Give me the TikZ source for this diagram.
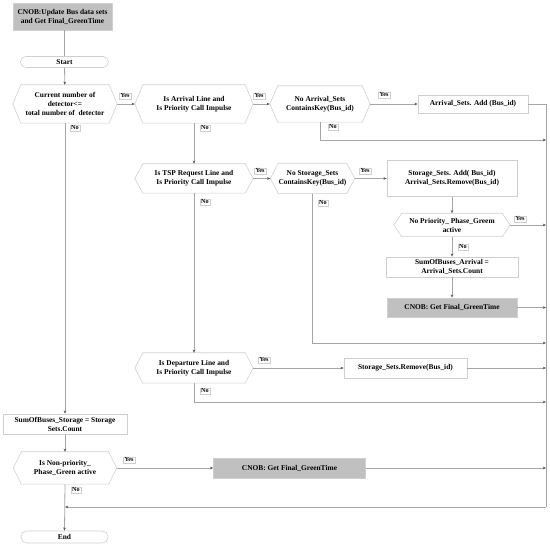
\documentclass[tikz,border=0pt]{standalone}
\usepackage{fontspec}
\setmainfont{Liberation Serif}
\usetikzlibrary{arrows.meta}
\definecolor{linegray}{HTML}{A6A6A6}
\definecolor{boxgray}{HTML}{CFCFCF}
\definecolor{fillgray}{HTML}{C0C0C0}
\definecolor{tipgray}{HTML}{555555}
\begin{document}
\begin{tikzpicture}[x=1pt,y=-1pt,
  every node/.style={font=\fontsize{7.4}{9}\selectfont\bfseries, align=center, inner sep=0pt},
  proc/.style={draw=boxgray, line width=0.6pt, fill=white},
  grayproc/.style={draw=boxgray, line width=0.6pt, fill=fillgray},
  term/.style={draw=boxgray, line width=0.6pt, rounded corners=5.5pt, fill=white},
  hexd/.style={},
  hexline/.style={draw=boxgray, line width=0.6pt},
  lbl/.style={draw=boxgray, line width=0.4pt, fill=white, font=\fontsize{6.2}{6.2}\selectfont\bfseries, inner xsep=1.5pt, inner ysep=1pt},
  conn/.style={draw=linegray, line width=0.8pt},
  arr/.style={conn, -{Stealth[length=3.2pt,width=2.6pt,color=tipgray]}}
]
\useasboundingbox (0,0) rectangle (550,545);

% nodes
\node[grayproc, minimum width=99pt, minimum height=27pt] (top) at (62.5,16.5) {CNOB:Update Bus data sets\\and Get Final\_GreenTime};
\node[term, minimum width=88pt, minimum height=11pt] (start) at (64.5,62) {Start};
\node[hexd, minimum width=104pt, minimum height=38pt] (d1) at (65,104) {Current number of\\detector<=\\total number of\ \ detector};
\node[hexd, minimum width=118pt, minimum height=38pt] (d2) at (194,104) {Is Arrival Line and\\Is Priority Call Impulse};
\node[hexd, minimum width=100pt, minimum height=36pt] (d3) at (320,104) {No Arrival\_Sets\\ContainsKey(Bus\_id)};
\node[proc, minimum width=110pt, minimum height=18pt] (a1) at (473,104) {Arrival\_Sets. Add (Bus\_id)};
\node[hexd, minimum width=118pt, minimum height=29pt] (d4) at (194,178.5) {Is TSP Request Line and\\Is Priority Call Impulse};
\node[hexd, minimum width=84pt, minimum height=30pt] (d5) at (312.5,178.5) {No Storage\_Sets\\ContainsKey(Bus\_id)};
\node[proc, minimum width=130pt, minimum height=36pt] (b1) at (452,178.5) {Storage\_Sets. Add( Bus\_id)\\Arrival\_Sets.Remove(Bus\_id)};
\node[hexd, minimum width=116pt, minimum height=23pt] (d6) at (452,225) {No Priority\_ Phase\_Greem\\active};
\node[proc, minimum width=132pt, minimum height=20pt] (b2) at (452,267) {SumOfBuses\_Arrival =\\Arrival\_Sets.Count};
\node[grayproc, minimum width=130pt, minimum height=19pt] (g1) at (452,307.5) {CNOB: Get Final\_GreenTime};
\node[hexd, minimum width=118pt, minimum height=30pt] (d7) at (194,368) {Is Departure Line and\\Is Priority Call Impulse};
\node[proc, minimum width=123pt, minimum height=20pt] (b3) at (405.5,368) {Storage\_Sets.Remove(Bus\_id)};
\node[proc, minimum width=124pt, minimum height=20pt] (st) at (65,424) {SumOfBuses\_Storage = Storage\\Sets.Count};
\node[hexd, minimum width=103pt, minimum height=32pt] (d8) at (65,468) {Is Non-priority\_\\Phase\_Green active};
\node[grayproc, minimum width=152pt, minimum height=20pt] (g2) at (289.5,468) {CNOB: Get Final\_GreenTime};
\node[term, minimum width=87pt, minimum height=12pt] (end) at (64.5,537) {End};

% hexagon outlines
\foreach \n in {d1,d2,d3,d4,d5,d6,d7,d8}{
  \draw[hexline] ([xshift=8pt]\n.north west) -- ([xshift=-8pt]\n.north east) -- (\n.east)
    -- ([xshift=-8pt]\n.south east) -- ([xshift=8pt]\n.south west) -- (\n.west) -- cycle;
}

% right collector coordinates
\coordinate (rtop) at (546,104);
\coordinate (rbot) at (546,507);
\coordinate (back) at (65,507);
\coordinate (c3) at (546,140);
\coordinate (c6) at (546,225);
\coordinate (cg1) at (546,307.5);
\coordinate (c5) at (546,343);
\coordinate (cb3) at (546,368);
\coordinate (c7) at (546,402);
\coordinate (cg2) at (546,468);

% connectors
\draw[conn] (start.north |- top.south) -- (start.north);
\draw[arr] (start) -- (d1);
\draw[arr] (d1.east) -- (d2.west);
\draw[arr] (d2.east) -- (d3.west);
\draw[arr] (d3.east) -- (a1.west);
\draw[conn] (a1.east) -- (rtop) -- (rbot);
\draw[arr] (rbot) -- (back);
\draw[arr] (d3.south) |- (c3);
\draw[arr] (d2.south) -- (d4.north);
\draw[arr] (d4.east) -- (d5.west);
\draw[arr] (d5.east) -- (b1.west);
\draw[arr] (b1.south) -- (d6.north);
\draw[arr] (d6.east) -- (c6);
\draw[arr] (d6.south) -- (b2.north);
\draw[arr] (b2.south) -- (g1.north);
\draw[arr] (g1.east) -- (cg1);
\draw[arr] (d5.south) |- (c5);
\draw[arr] (d4.south) -- (d7.north);
\draw[arr] (d7.east) -- (b3.west);
\draw[arr] (b3.east) -- (cb3);
\draw[arr] (d7.south) |- (c7);
\draw[arr] (d1.south) -- (st.north);
\draw[arr] (st.south) -- (d8.north);
\draw[arr] (d8.east) -- (g2.west);
\draw[arr] (g2.east) -- (cg2);
\draw[arr] (d8.south) -- (end.north);

% labels
\node[lbl] (y1) at (125,96) {Yes};
\node[lbl] (n1) at (75,128) {No};
\node[lbl] (y2) at (259,96) {Yes};
\node[lbl] (n2) at (205,128) {No};
\node[lbl] (y3) at (384,95) {Yes};
\node[lbl] (n3) at (333,127) {No};
\node[lbl] (y4) at (260,171) {Yes};
\node[lbl] (n4) at (205,202) {No};
\node[lbl] (y5) at (365,171) {Yes};
\node[lbl] (n5) at (323,203) {No};
\node[lbl] (y6) at (520,219) {Yes};
\node[lbl] (n6) at (463,247) {No};
\node[lbl] (y7) at (264,360) {Yes};
\node[lbl] (n7) at (205,391) {No};
\node[lbl] (y8) at (129,460) {Yes};
\node[lbl] (n8) at (76,490) {No};
\end{tikzpicture}
\end{document}
